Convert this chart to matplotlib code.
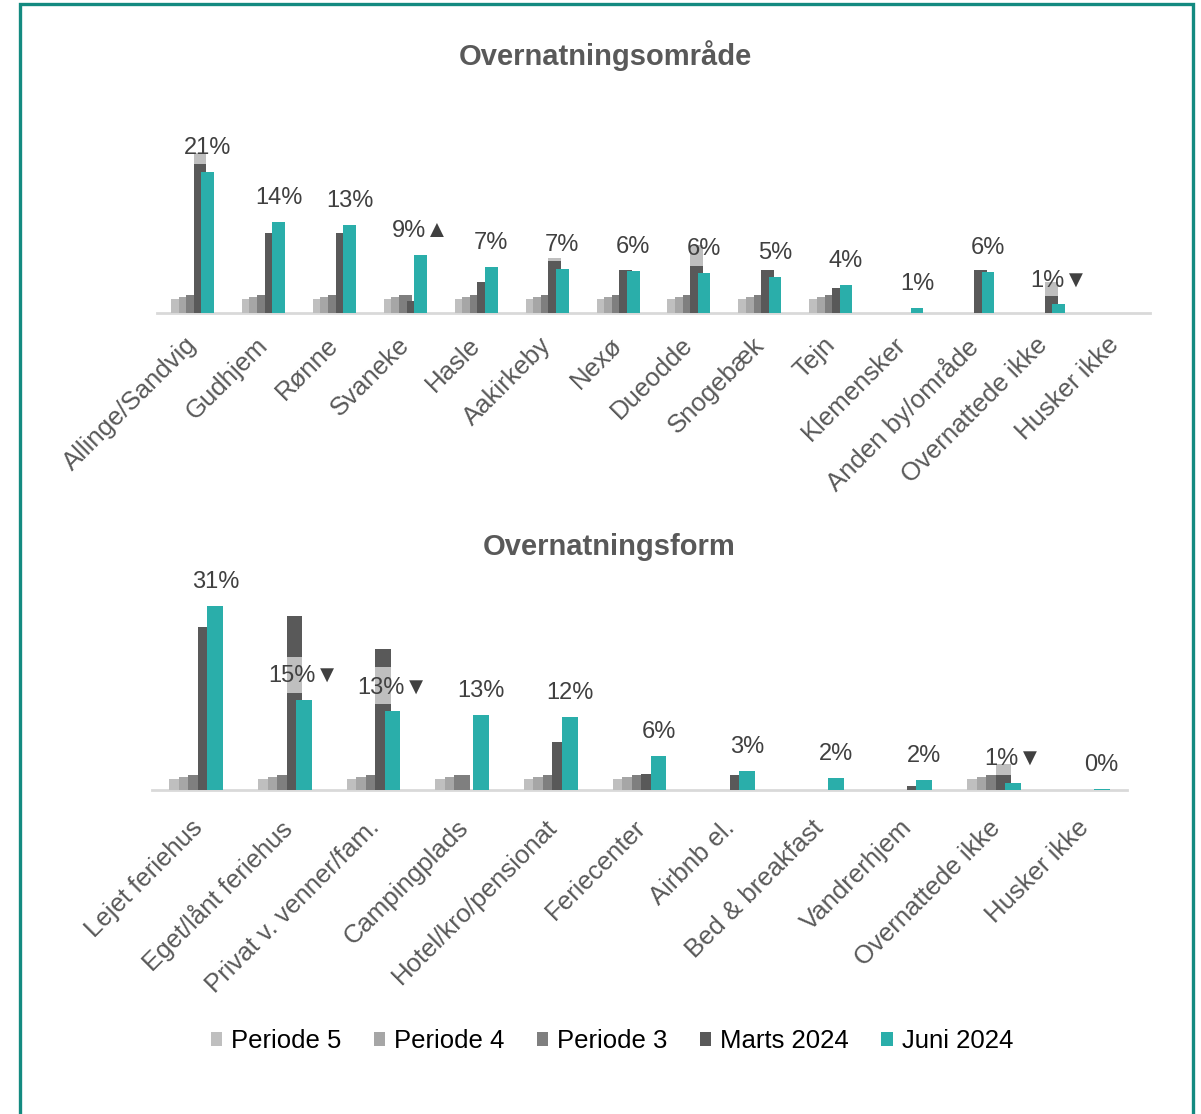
import numpy as np
import matplotlib
matplotlib.use("Agg")
import matplotlib.pyplot as plt
import matplotlib.transforms as mtransforms
from matplotlib.patches import Rectangle, Patch

plt.rcParams['font.family'] = ['Liberation Sans', 'DejaVu Sans']

# -----------------------------
# Data (percent)
# -----------------------------
series = ["Periode 5", "Periode 4", "Periode 3", "Marts 2024", "Juni 2024"]
colors = ["#bfbfbf", "#a6a6a6", "#7f7f7f", "#595959", "#2aaeaa"]

area_cats = ["Allinge/Sandvig", "Gudhjem", "Rønne", "Svaneke", "Hasle", "Aakirkeby",
             "Nexø", "Dueodde", "Snogebæk", "Tejn", "Klemensker", "Anden by/område",
             "Overnattede ikke", "Husker ikke"]
nan = np.nan
area_p5 = [2.1] * 10 + [nan] * 4
area_p4 = [2.4] * 10 + [nan] * 4
area_p3 = [2.7] * 10 + [nan] * 4
area_marts = [22.1, 11.9, 11.9, 1.8, 4.6, 7.7, 6.4, 7.0, 6.4, 3.7, nan, 6.4, 2.6, nan]
area_juni = [21.0, 13.5, 13.1, 8.7, 6.8, 6.6, 6.2, 5.9, 5.3, 4.2, 0.8, 6.1, 1.3, nan]
area_band_lo = [22.1, nan, nan, nan, nan, 7.7, nan, 7.0, nan, nan, nan, nan, 2.6, nan]
area_band_hi = [23.8, nan, nan, nan, nan, 8.2, nan, 10.1, nan, nan, nan, nan, 4.6, nan]
area_labels = ["21%", "14%", "13%", "9%▲", "7%", "7%", "6%", "6%", "5%", "4%",
               "1%", "6%", "1%▼", ""]

form_cats = ["Lejet feriehus", "Eget/lånt feriehus", "Privat v. venner/fam.",
             "Campingplads", "Hotel/kro/pensionat", "Feriecenter", "Airbnb el.",
             "Bed & breakfast", "Vandrerhjem", "Overnattede ikke", "Husker ikke"]
form_p5 = [1.85, 1.85, 1.85, 1.85, 1.85, 1.85, nan, nan, nan, 1.85, nan]
form_p4 = [2.2, 2.2, 2.2, 2.2, 2.2, 2.2, nan, nan, nan, 2.2, nan]
form_p3 = [2.5, 2.5, 2.5, 2.5, 2.5, 2.5, nan, nan, nan, 2.5, nan]
form_marts = [27.4, 29.2, 23.7, nan, 8.1, 2.7, 2.6, nan, 0.7, 2.5, nan]
form_juni = [31.0, 15.1, 13.2, 12.6, 12.2, 5.7, 3.2, 2.1, 1.6, 1.2, 0.2]
form_band_lo = [nan, 16.3, 14.5, nan, nan, nan, nan, nan, nan, 2.5, nan]
form_band_hi = [nan, 22.3, 20.6, nan, nan, nan, nan, nan, nan, 4.4, nan]
form_labels = ["31%", "15%▼", "13%▼", "13%", "12%", "6%", "3%", "2%", "2%",
               "1%▼", "0%"]

W, H = 1201, 1114
fig = plt.figure(figsize=(W / 100, H / 100), dpi=100)

STEP = 0.107
BW = 0.178


def px_axes(x0, x1, ybase, ytop):
    return fig.add_axes([x0 / W, 1 - ybase / H, (x1 - x0) / W, (ybase - ytop) / H])


def draw_panel(ax, cats, vals, band_lo, band_hi, labels, ymax, pad, shift):
    x = np.arange(len(cats))
    for k, (v, c) in enumerate(zip(vals, colors)):
        v = np.array(v, dtype=float)
        ok = ~np.isnan(v)
        ax.bar(x[ok] + (k - 2) * STEP, v[ok], width=BW, color=c, zorder=2 + k,
               linewidth=0)
        if k == 3:
            lo = np.array(band_lo, dtype=float)
            hi = np.array(band_hi, dtype=float)
            ok2 = ~np.isnan(lo)
            ax.bar(x[ok2] + (k - 2) * STEP, hi[ok2] - lo[ok2], bottom=lo[ok2],
                   width=BW, color="#bfbfbf", zorder=2 + k, linewidth=0)
    juni = np.array(vals[4], dtype=float)
    for i, lab in enumerate(labels):
        if lab:
            ax.annotate(lab, (x[i] + 2 * STEP, juni[i]), xytext=(0, 24),
                        textcoords="offset pixels", ha="center", va="center",
                        fontsize=17, color="#404040", zorder=20)
    ax.set_xlim(-0.5, len(cats) - 0.5)
    ax.set_ylim(0, ymax)
    ax.set_xticks(x)
    ax.set_xticklabels(cats, rotation=45, ha="right", rotation_mode="anchor",
                       fontsize=18.5, color="#595959")
    ax.tick_params(axis="x", length=0, pad=pad)
    off = mtransforms.ScaledTranslation(shift[0] / 100, shift[1] / 100,
                                        fig.dpi_scale_trans)
    for t in ax.get_xticklabels():
        t.set_transform(t.get_transform() + off)
    ax.set_yticks([])
    for s in ["top", "right", "left"]:
        ax.spines[s].set_visible(False)
    ax.spines["bottom"].set_color("#d9d9d9")
    ax.spines["bottom"].set_linewidth(2)
    ax.spines["bottom"].set_zorder(1)


ax1 = px_axes(157, 1150, 313, 100)
draw_panel(ax1, area_cats, [area_p5, area_p4, area_p3, area_marts, area_juni],
           area_band_lo, area_band_hi, area_labels, 213 / 6.72, 10, (-8, -6))

ax2 = px_axes(152, 1127, 790, 570)
draw_panel(ax2, form_cats, [form_p5, form_p4, form_p3, form_marts, form_juni],
           form_band_lo, form_band_hi, form_labels, 220 / 5.95, 14, (-6, -6))

fig.text(605 / W, 1 - 56 / H, "Overnatningsområde", ha="center", va="center",
         fontsize=21, fontweight="bold", color="#595959")
fig.text(609 / W, 1 - 547 / H, "Overnatningsform", ha="center", va="center",
         fontsize=21, fontweight="bold", color="#595959")

handles = [Patch(facecolor=c, edgecolor="none") for c in colors]
fig.legend(handles, series, loc="center", bbox_to_anchor=(612 / W, 1 - 1041 / H),
           ncol=5, frameon=False, fontsize=18.5, handlelength=0.45, handleheight=0.45,
           handletextpad=0.35, columnspacing=1.25)

# teal frame round the chart
fig.patches.append(Rectangle((20 / W, -0.01), 1173 / W, 1 - 4 / H + 0.01,
                             transform=fig.transFigure, fill=False,
                             edgecolor="#138a80", linewidth=2.4))

fig.savefig("out.png", dpi=100, facecolor="white")
